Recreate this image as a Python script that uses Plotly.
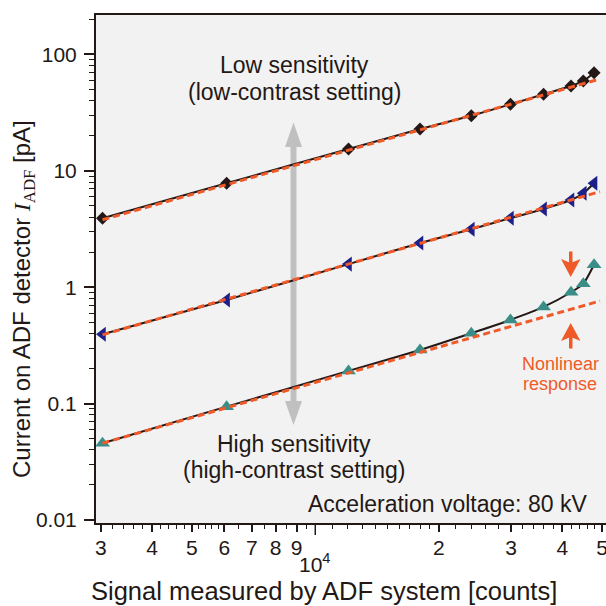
import plotly.graph_objects as go

# ---------------- data ----------------
signal_counts = [3030, 6080, 12050, 18000, 24000, 29900, 36000, 42000, 45000, 47800]
current_low_sens = [3.92, 7.83, 15.4, 22.9, 29.8, 37.3, 45.5, 53.6, 59.2, 69.8]
current_mid_sens = [0.394, 0.778, 1.58, 2.40, 3.15, 3.92, 4.71, 5.62, 6.42, 7.83]
current_high_sens = [0.0457, 0.0942, 0.191, 0.289, 0.403, 0.524, 0.677, 0.906, 1.07, 1.56]

linear_fit_x = [3030, 49400]
linear_fit_low = [3.8, 61.6]
linear_fit_mid = [0.39, 6.63]
linear_fit_high = [0.0457, 0.762]

x_tickvals = [3000, 4000, 5000, 6000, 7000, 8000, 9000, 20000, 30000, 40000, 50000]
x_ticktext = ["3", "4", "5", "6", "7", "8", "9", "2", "3", "4", "5"]
y_tickvals = [0.01, 0.1, 1, 10, 100]
y_ticktext = ["0.01", "0.1", "1", "10", "100"]

# ---------------- style ----------------
DARK = "#231815"
BLUE = "#1D2088"
TEAL = "#3B8E87"
ORANGE = "#EF5A28"
GREY = "#C0C0C0"
FONT = "Liberation Sans, Arial, sans-serif"

W, H = 606, 606
L, R, T, B = 96, 0, 15, 83
PW, PH = W - L - R, H - T - B


def px(x):
    return (x - L) / PW


def py(y):
    return (H - B - y) / PH


fig = go.Figure()

series = [
    (current_low_sens, "diamond", DARK, 10),
    (current_mid_sens, "triangle-left", BLUE, 13),
    (current_high_sens, "triangle-up", TEAL, 13),
]
for vals, sym, col, size in series:
    fig.add_trace(go.Scatter(
        x=signal_counts, y=vals, mode="lines+markers",
        line=dict(color=DARK, width=2, shape="spline", smoothing=0.5),
        marker=dict(symbol=sym, color=col, size=size, line=dict(width=0)),
        showlegend=False, hoverinfo="skip"))

for vals in [linear_fit_low, linear_fit_mid, linear_fit_high]:
    fig.add_trace(go.Scatter(
        x=linear_fit_x, y=vals, mode="lines",
        line=dict(color=ORANGE, width=3, dash="7px,4px"),
        showlegend=False, hoverinfo="skip"))

minor_x = ([3200, 3400, 3600, 3800, 4200, 4400, 4600, 4800, 5200, 5400, 5600, 5800,
            6500, 7500, 8500, 9500]
           + list(range(11000, 20000, 1000))
           + [22000, 24000, 26000, 28000, 32000, 34000, 36000, 38000,
              42000, 44000, 46000, 48000])
minor_y = [m * 10 ** e for e in range(-2, 3) for m in range(2, 10) if m * 10 ** e <= 210]

axis_common = dict(
    type="log", showgrid=False, zeroline=False, automargin=False,
    showline=True, linecolor=DARK, linewidth=2, mirror=True,
    ticks="outside", tickcolor=DARK, tickwidth=1.5,
    tickfont=dict(family=FONT, size=21, color=DARK),
    tickmode="array", ticklabeloverflow="allow",
)

fig.update_layout(
    width=W, height=H,
    margin=dict(l=L, r=R, t=T, b=B),
    paper_bgcolor="white",
    plot_bgcolor="#F2F2F2",
    xaxis=dict(axis_common, range=[3.4656, 4.7085], tickvals=x_tickvals,
               ticktext=x_ticktext, ticklen=7, ticklabelstandoff=-2,
               minor=dict(tickmode="array", tickvals=minor_x, ticks="outside",
                          ticklen=3.5, tickcolor=DARK, tickwidth=1.2)),
    yaxis=dict(axis_common, range=[-2.0258, 2.3393], tickvals=y_tickvals,
               ticktext=y_ticktext, ticklen=10, ticklabelstandoff=3,
               minor=dict(tickmode="array", tickvals=minor_y, ticks="outside",
                          ticklen=5, tickcolor=DARK, tickwidth=1.2)),
)

shapes = []
# grey double arrow
shapes.append(dict(type="rect", xref="paper", yref="paper",
                   x0=px(290.5), x1=px(296.5), y0=py(403), y1=py(145),
                   fillcolor=GREY, line=dict(width=0), layer="below"))
for tip, base in [(122.5, 147), (425, 401)]:
    shapes.append(dict(type="path", xref="paper", yref="paper",
                       path=f"M {px(285)},{py(base)} L {px(293.5)},{py(tip)} L {px(302)},{py(base)} Z",
                       fillcolor=GREY, line=dict(width=0), layer="below"))
# orange arrows (nonlinear response)
shapes.append(dict(type="rect", xref="paper", yref="paper",
                   x0=px(569), x1=px(572.5), y0=py(264), y1=py(251.5),
                   fillcolor=ORANGE, line=dict(width=0)))
shapes.append(dict(type="path", xref="paper", yref="paper",
                   path=f"M {px(561)},{py(259)} L {px(570.7)},{py(277)} L {px(580.5)},{py(259)} L {px(570.7)},{py(263)} Z",
                   fillcolor=ORANGE, line=dict(width=0)))
shapes.append(dict(type="rect", xref="paper", yref="paper",
                   x0=px(569), x1=px(572.5), y0=py(348.5), y1=py(337),
                   fillcolor=ORANGE, line=dict(width=0)))
shapes.append(dict(type="path", xref="paper", yref="paper",
                   path=f"M {px(561)},{py(341)} L {px(570.7)},{py(323)} L {px(580.5)},{py(341)} L {px(570.7)},{py(337)} Z",
                   fillcolor=ORANGE, line=dict(width=0)))
# long major tick at 10^4
shapes.append(dict(type="line", xref="x", yref="paper", x0=10000, x1=10000,
                   y0=0, y1=py(535), line=dict(color=DARK, width=1.5)))
fig.update_layout(shapes=shapes)


def ann(text, x, y, size, color=DARK, xanchor="center", **kw):
    fig.add_annotation(text=text, x=px(x), y=py(y), xref="paper", yref="paper",
                       showarrow=False, xanchor=xanchor, yanchor="middle",
                       font=dict(family=FONT, size=size, color=color), **kw)


ann("Low sensitivity", 294, 65, 23)
ann("(low-contrast setting)", 294, 92, 23)
ann("High sensitivity", 294, 444, 23)
ann("(high-contrast setting)", 294, 470, 23)
ann("Acceleration voltage: 80 kV", 589, 504, 23, xanchor="right")
ann("Nonlinear", 560, 364, 18, color=ORANGE)
ann("response", 560, 384, 18, color=ORANGE)
ann("Signal measured by ADF system [counts]", 324, 591, 25.5)
ann("Current on ADF detector <span style='font-family:Liberation Serif, Times New Roman, serif'><i>I</i><sub>ADF</sub></span> [pA]",
    23, 299, 24, textangle=-90)

# 10^4 label under the major tick
fig.add_annotation(text="10<sup>4</sup>", x=4, xref="x", y=py(563), yref="paper",
                   showarrow=False, xanchor="center", yanchor="middle",
                   font=dict(family=FONT, size=21, color=DARK))

fig.write_html("out.html", config={"displayModeBar": False},
               post_script="document.body.style.margin='0px';")
